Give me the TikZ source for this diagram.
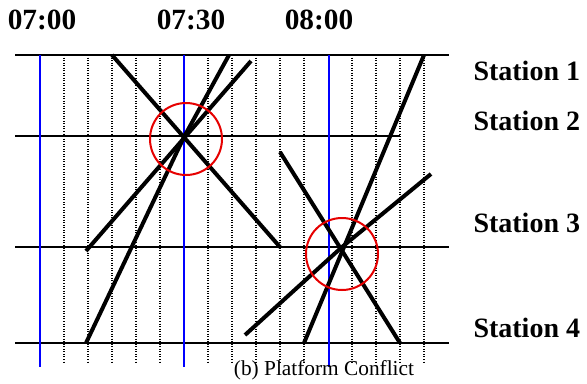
\documentclass[tikz,border=0pt]{standalone}
\usepackage{fontspec}
\setmainfont{Liberation Serif}

\tikzset{every picture/.style={line width=0.75pt}}
\tikzset{
  gridline/.style={line width=0.8pt, dash pattern=on 0.7pt off 1.2pt},
  hourline/.style={line width=1.5pt, color={rgb, 255:red, 0; green, 0; blue, 255 }},
  stationline/.style={line width=1.5pt},
  trainpath/.style={line width=3pt},
  conflict/.style={line width=1.5pt, color={rgb, 255:red, 230; green, 0; blue, 0 }},
  timelabel/.style={anchor=base, inner sep=0pt, font=\fontsize{22}{24}\selectfont\bfseries},
  stationlabel/.style={anchor=base west, inner sep=0pt, font=\fontsize{21}{24}\selectfont\bfseries}
}

\begin{document}
\begin{tikzpicture}[x=0.75pt,y=0.75pt,yscale=-1,xscale=1]
\useasboundingbox (0,0) rectangle (587,383); %set diagram size to 587 x 383

%Dotted Lines: 5 minute grid
\draw [gridline] (64,55) -- (64,363) ;
\draw [gridline] (88,55) -- (88,363) ;
\draw [gridline] (112,55) -- (112,363) ;
\draw [gridline] (136,55) -- (136,363) ;
\draw [gridline] (160,55) -- (160,363) ;
\draw [gridline] (208,55) -- (208,363) ;
\draw [gridline] (232,55) -- (232,363) ;
\draw [gridline] (256,55) -- (256,363) ;
\draw [gridline] (280,55) -- (280,363) ;
\draw [gridline] (304,55) -- (304,363) ;
\draw [gridline] (352,55) -- (352,363) ;
\draw [gridline] (376,55) -- (376,363) ;
\draw [gridline] (400,55) -- (400,363) ;
\draw [gridline] (424,55) -- (424,363) ;

%Straight Lines: stations
\draw [stationline] (15,55) -- (449,55) ;
\draw [stationline] (15,136) -- (400,136) ;
\draw [stationline] (15,247) -- (449,247) ;
\draw [stationline] (15,343) -- (449,343) ;

%Straight Lines: half hours
\draw [hourline] (40,55) -- (40,367) ;
\draw [hourline] (184,55) -- (184,367) ;
\draw [hourline] (329,55) -- (329,367) ;

%Straight Lines: trains, first conflict
\draw [trainpath] (112,55) -- (280,247) ;
\draw [trainpath] (229,55) -- (184,137) -- (86,343) ;
\draw [trainpath] (251,61) -- (86,251) ;
%Straight Lines: trains, second conflict
\draw [trainpath] (280,152) -- (400,343) ;
\draw [trainpath] (424,55) -- (304,343) ;
\draw [trainpath] (431,174) -- (342,247) -- (245,335) ;

%Shape: Circle
\draw [conflict] (186,139) circle [radius=36] ;
%Shape: Circle
\draw [conflict] (342,254) circle [radius=36] ;

% Text Node
\draw (42,29) node [timelabel] {07:00};
% Text Node
\draw (191,29) node [timelabel] {07:30};
% Text Node
\draw (319,29) node [timelabel] {08:00};
% Text Node
\draw (473,80) node [stationlabel] {Station 1};
% Text Node
\draw (473,130) node [stationlabel] {Station 2};
% Text Node
\draw (473,232) node [stationlabel] {Station 3};
% Text Node
\draw (473,337) node [stationlabel] {Station 4};
% Text Node
\draw (324,375) node [anchor=base, inner sep=0pt, font=\fontsize{16}{18}\selectfont] {(b) Platform Conflict};

\end{tikzpicture}
\end{document}
